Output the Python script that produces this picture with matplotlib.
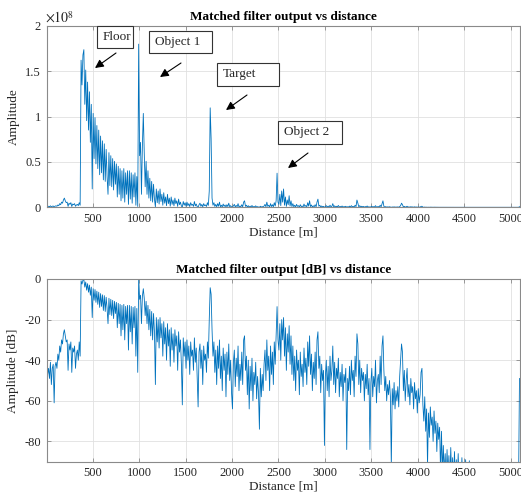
import numpy as np
import matplotlib
matplotlib.use("Agg")
import matplotlib.pyplot as plt
from matplotlib.patches import Rectangle, FancyArrowPatch
from matplotlib.ticker import FuncFormatter

#---------------- DADOS ----------------

# Saída do filtro casado em dB (relativa ao pico), uma amostra a cada 10 m a partir de 5 m
step_m = 10
start_m = 5
output_db = [
    -78, -47, -44, -49, -41, -52, -44, -42, -61, -43,          # 5-95 m
    -41, -44, -37, -40, -33, -36, -30, -32, -27, -25,          # 105-195
    -28, -31, -30, -45, -32, -35, -31, -46, -34, -36,          # 205-295
    -33, -44, -37, -35, -40, -31, -38, -0.9, -2.5, -0.6,       # 305-395
    -0.3, -4.0, -1.5, -5.5, -2.3, -6.5, -3.0, -8.0, -4.0, -19,  # 405-495
    -4.8, -10.5, -5.2, -11.5, -6.0, -12.5, -6.5, -14, -7.2, -13.5,  # 505-595
    -7.8, -15.5, -8.2, -16, -9.0, -14.5, -22, -9.5, -17.5, -10,  # 605-695
    -18, -10.5, -19.5, -11, -17, -11.5, -24, -12, -22, -12.5,  # 705-795
    -28, -13, -25, -12.5, -30, -13.5, -22, -13, -35, -13,      # 805-895
    -26, -13.5, -32, -14, -24, -13.5, -38, -14.5, -46, 0,      # 905-995
    -10, -8, -22, -8.5, -4.8, -9.5, -18, -11, -22, -13,        # 1005-1095
    -25, -15, -28, -16, -30, -17, -26, -52, -19, -31,          # 1105-1195
    -20, -34, -19, -29, -22, -38, -21, -32, -24, -40,          # 1205-1295
    -22, -33, -25, -43, -24, -35, -27, -41, -25, -33,          # 1305-1395
    -28, -45, -26, -36, -30, -42, -62, -29, -38, -31,          # 1405-1495
    -44, -30, -40, -33, -47, -31, -38, -35, -45, -29,          # 1505-1595
    -41, -34, -48, -63, -36, -32, -44, -35, -52, -33,          # 1605-1695
    -40, -37, -46, -31, -39, -20, -4.3, -7.5, -25, -38,        # 1705-1795
    -31, -46, -35, -52, -33, -44, -30, -49, -38, -55,          # 1805-1895
    -34, -45, -37, -58, -36, -47, -32, -50, -40, -56,          # 1905-1995
    -64, -41, -35, -53, -39, -48, -33, -55, -42, -50,          # 2005-2095
    -36, -52, -30, -28, -45, -38, -57, -40, -64, -43,          # 2105-2195
    -55, -39, -60, -46, -52, -41, -59, -48, -56, -74,          # 2205-2295
    -44, -58, -47, -55, -42, -35, -50, -30, -45, -38,          # 2305-2395
    -55, -33, -47, -36, -52, -31, -42, -28, -13.6, -30,        # 2405-2495
    -35, -22, -40, -20, -30, -19, -38, -24, -45, -27,          # 2505-2595
    -36, -23, -42, -28, -47, -33, -50, -38, -55, -35,          # 2605-2695
    -45, -40, -57, -36, -48, -42, -53, -34, -46, -39,          # 2705-2795
    -52, -31, -43, -28, -47, -37, -55, -41, -49, -36,          # 2805-2895
    -52, -30, -26, -44, -38, -56, -42, -50, -45, -82,          # 2905-2995
    -48, -40, -55, -43, -58, -38, -50, -45, -33, -52,          # 3005-3095
    -41, -56, -44, -49, -39, -58, -46, -53, -42, -60,          # 3105-3195
    -47, -51, -44, -84, -49, -55, -43, -57, -40, -50,          # 3205-3295
    -45, -58, -38, -48, -27, -32, -52, -40, -56, -44,          # 3305-3395
    -50, -46, -60, -47, -54, -42, -57, -49, -84, -51,          # 3405-3495
    -44, -58, -48, -53, -40, -61, -50, -47, -56, -38,          # 3505-3595
    -52, -33, -28, -45, -55, -48, -60, -52, -57, -50,          # 3605-3695
    -58, -92, -54, -62, -51, -64, -55, -60, -53, -63,          # 3705-3795
    -48, -40, -32, -36, -55, -45, -60, -50, -44, -58,          # 3805-3895
    -52, -62, -49, -56, -53, -64, -51, -59, -55, -66,          # 3905-3995
    -54, -61, -57, -46, -44, -62, -70, -58, -75, -64,          # 4005-4095
    -92, -66, -78, -63, -72, -68, -80, -65, -76, -70,          # 4105-4195
    -85, -71, -79, -73, -95, -75, -95, -82, -96, -86,          # 4205-4295
    -100, -84, -97, -87, -100, -83, -98, -88, -100, -85,       # 4305-4395
    -99, -89, -100, -86, -100, -95, -100, -88, -100, -100,     # 4405-4495
    -100, -89, -100, -100, -100, -89.5,                        # 4505-4555
]
# trecho final (abaixo do piso de -90 dB até quase o fim)
tail_m = [4565, 5085, 5095]
tail_db = [-100, -100, -49]

peak_amplitude = 1.8e8  # pico da saída (Object 1)

xticks_m = [500, 1000, 1500, 2000, 2500, 3000, 3500, 4000, 4500, 5000]
yticks_lin = [0, 0.5e8, 1e8, 1.5e8, 2e8]
yticks_db = [-80, -60, -40, -20, 0]

# caixas de texto: rótulo, caixa (x0, y0, x1, y1) e seta (cauda, ponta), em pixels da figura
labels = ["Floor", "Object 1", "Target", "Object 2"]
label_boxes = [(97, 26, 133, 48), (149, 31, 212, 53), (217, 63, 279, 86), (278, 121, 342, 144)]
label_arrows = [((116, 53), (95, 68)), ((181, 63), (160, 77)),
                ((247, 95), (226, 110)), ((308, 153), (288, 168))]

#---------------- CONFIGURAÇÃO ----------------

W, H = 521, 499
plt.rcParams['font.family'] = ['Liberation Serif', 'DejaVu Serif']
plt.rcParams['mathtext.fontset'] = 'stix'
plt.rcParams['font.size'] = 9
plt.rcParams['axes.unicode_minus'] = False

line_color = '#0072BD'
axis_color = '#8a8a8a'
text_color = '#262626'


def px(x, y):
    # pixels (origem em cima à esquerda) -> fração da figura
    return x / W, 1 - y / H


def style_axes(ax):
    ax.grid(True, color='#e0e0e0', linewidth=0.6)
    ax.set_axisbelow(True)
    for s in ax.spines.values():
        s.set_color(axis_color)
        s.set_linewidth(0.8)
    ax.tick_params(direction='in', length=3, width=0.6, color=axis_color,
                   labelcolor=text_color, top=True, right=True, labelsize=9, pad=4)
    ax.set_xticks(xticks_m)
    ax.set_xlim(3, 5100)
    ax.set_xlabel('Distance [m]', color=text_color, fontsize=9.5, labelpad=1)


def main():
    n = len(output_db)
    distance = np.concatenate([start_m + step_m * np.arange(n), tail_m])
    db = np.concatenate([output_db, tail_db])
    amplitude = peak_amplitude * 10 ** (db / 20)

    fig = plt.figure(figsize=(W / 100, H / 100), dpi=100)
    ax1 = fig.add_axes([0.0893, 0.5846, 0.9087, 0.3633])
    ax2 = fig.add_axes([0.0893, 0.0747, 0.9087, 0.3662])

    #---------------- PLOTANDO GRÁFICOS ----------------

    ax1.plot(distance, amplitude, color=line_color, linewidth=0.6)
    style_axes(ax1)
    ax1.set_ylim(0, 2e8)
    ax1.set_yticks(yticks_lin)
    ax1.yaxis.set_major_formatter(FuncFormatter(lambda v, p: f'{v / 1e8:g}'))
    ax1.set_ylabel('Amplitude', color=text_color, fontsize=9.5, labelpad=4)
    ax1.set_title('Matched filter output vs distance', fontweight='bold',
                  fontsize=9.5, pad=4, color='black')
    fx, fy = px(45, 18)
    fig.text(fx, fy, r'$\times10^{8}$', fontsize=10, color=text_color, va='center', ha='left')

    ax2.plot(distance, db, color=line_color, linewidth=0.6)
    style_axes(ax2)
    ax2.set_ylim(-90, 0)
    ax2.set_yticks(yticks_db)
    ax2.set_ylabel('Amplitude [dB]', color=text_color, fontsize=9.5, labelpad=4)
    ax2.set_title('Matched filter output [dB] vs distance', fontweight='bold',
                  fontsize=9.5, pad=4, color='black')

    # caixas com setas (anotações)
    for label, box, arrow in zip(labels, label_boxes, label_arrows):
        x0, y0, x1, y1 = box
        bx, by = px(x0, y1)
        rect = Rectangle((bx, by), (x1 - x0) / W, (y1 - y0) / H, transform=fig.transFigure,
                         facecolor='white', edgecolor='#333333', linewidth=0.8)
        fig.add_artist(rect)
        tx, ty = px(x0 + 6, (y0 + y1) / 2)
        fig.text(tx, ty, label, fontsize=9.5, color=text_color, va='center', ha='left')
        arr = FancyArrowPatch(px(*arrow[0]), px(*arrow[1]), transform=fig.transFigure,
                              arrowstyle='-|>,head_length=5,head_width=2.5',
                              color='black', linewidth=0.8, shrinkA=0, shrinkB=0)
        fig.add_artist(arr)

    fig.savefig('out.png', dpi=100)


if __name__ == "__main__":
    main()
